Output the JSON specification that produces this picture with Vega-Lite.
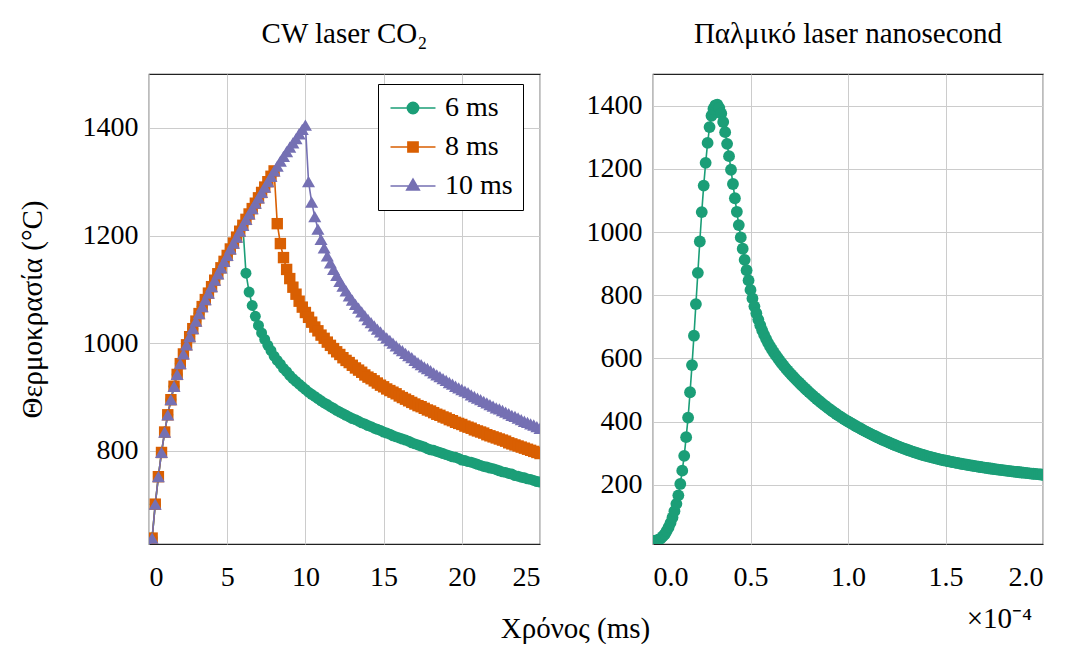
{
"$schema":"https://vega.github.io/schema/vega-lite/v6.json",
"background":"white",
"padding":{"left":17,"top":19,"right":5,"bottom":0},
"bounds":"flush",
"spacing":113,
"config":{
 "font":"serif",
 "view":{"stroke":"#222222","strokeWidth":1.2},
 "style":{"guide-label":{"font":"serif"},"guide-title":{"font":"serif"}},
 "axis":{"labelFont":"serif","labelFontSize":28,"labelColor":"black","titleFont":"serif","titleFontSize":29,"titleFontWeight":"normal","titleColor":"black","gridColor":"#cccccc","gridWidth":1,"domain":false,"ticks":false,"labelPadding":11},
 "legend":{"labelFont":"serif","titleFont":"serif"},
 "title":{"font":"Liberation Serif","fontSize":29,"fontWeight":"normal","color":"black"}
},
"hconcat":[
{
 "width":391,"height":470,
 "title":{"text":"CW laser CO₂","offset":2,"baseline":"alphabetic","font":"Liberation Serif"},
 "data":{"values":[
{"t":0,"6 ms":625,"8 ms":625,"10 ms":625},
{"t":0.2,"6 ms":638,"8 ms":638,"10 ms":638},
{"t":0.4,"6 ms":701,"8 ms":701,"10 ms":701},
{"t":0.6,"6 ms":752,"8 ms":752,"10 ms":752},
{"t":0.8,"6 ms":797,"8 ms":797,"10 ms":797},
{"t":1.0,"6 ms":835,"8 ms":835,"10 ms":835},
{"t":1.2,"6 ms":867,"8 ms":867,"10 ms":867},
{"t":1.4,"6 ms":895,"8 ms":895,"10 ms":895},
{"t":1.6,"6 ms":920,"8 ms":920,"10 ms":920},
{"t":1.8,"6 ms":942,"8 ms":942,"10 ms":942},
{"t":2.0,"6 ms":962,"8 ms":962,"10 ms":962},
{"t":2.2,"6 ms":980,"8 ms":980,"10 ms":980},
{"t":2.4,"6 ms":997,"8 ms":997,"10 ms":997},
{"t":2.6,"6 ms":1012,"8 ms":1012,"10 ms":1012},
{"t":2.8,"6 ms":1027,"8 ms":1027,"10 ms":1027},
{"t":3.0,"6 ms":1041,"8 ms":1041,"10 ms":1041},
{"t":3.2,"6 ms":1055,"8 ms":1055,"10 ms":1055},
{"t":3.4,"6 ms":1068,"8 ms":1068,"10 ms":1068},
{"t":3.6,"6 ms":1081,"8 ms":1081,"10 ms":1081},
{"t":3.8,"6 ms":1093,"8 ms":1093,"10 ms":1093},
{"t":4.0,"6 ms":1105,"8 ms":1105,"10 ms":1105},
{"t":4.2,"6 ms":1117,"8 ms":1117,"10 ms":1117},
{"t":4.4,"6 ms":1129,"8 ms":1129,"10 ms":1129},
{"t":4.6,"6 ms":1140,"8 ms":1140,"10 ms":1140},
{"t":4.8,"6 ms":1152,"8 ms":1152,"10 ms":1152},
{"t":5.0,"6 ms":1163,"8 ms":1163,"10 ms":1163},
{"t":5.2,"6 ms":1175,"8 ms":1175,"10 ms":1175},
{"t":5.4,"6 ms":1186,"8 ms":1186,"10 ms":1186},
{"t":5.6,"6 ms":1197,"8 ms":1197,"10 ms":1197},
{"t":5.8,"6 ms":1208,"8 ms":1208,"10 ms":1208},
{"t":6.0,"6 ms":1219,"8 ms":1219,"10 ms":1219},
{"t":6.2,"6 ms":1130,"8 ms":1230,"10 ms":1230},
{"t":6.4,"6 ms":1095,"8 ms":1240,"10 ms":1240},
{"t":6.6,"6 ms":1070,"8 ms":1250,"10 ms":1250},
{"t":6.8,"6 ms":1050,"8 ms":1260,"10 ms":1260},
{"t":7.0,"6 ms":1033,"8 ms":1270,"10 ms":1270},
{"t":7.2,"6 ms":1019,"8 ms":1280,"10 ms":1280},
{"t":7.4,"6 ms":1007,"8 ms":1290,"10 ms":1290},
{"t":7.6,"6 ms":996,"8 ms":1300,"10 ms":1300},
{"t":7.8,"6 ms":986,"8 ms":1310,"10 ms":1310},
{"t":8.0,"6 ms":976,"8 ms":1320,"10 ms":1320},
{"t":8.2,"6 ms":968,"8 ms":1222,"10 ms":1329},
{"t":8.4,"6 ms":961,"8 ms":1185,"10 ms":1338},
{"t":8.6,"6 ms":953,"8 ms":1159,"10 ms":1347},
{"t":8.8,"6 ms":947,"8 ms":1137,"10 ms":1356},
{"t":9.0,"6 ms":940,"8 ms":1120,"10 ms":1364},
{"t":9.2,"6 ms":934,"8 ms":1104,"10 ms":1372},
{"t":9.4,"6 ms":929,"8 ms":1091,"10 ms":1380},
{"t":9.6,"6 ms":924,"8 ms":1078,"10 ms":1389},
{"t":9.8,"6 ms":919,"8 ms":1067,"10 ms":1397},
{"t":10.0,"6 ms":914,"8 ms":1057,"10 ms":1405},
{"t":10.2,"6 ms":909,"8 ms":1048,"10 ms":1300},
{"t":10.4,"6 ms":905,"8 ms":1039,"10 ms":1262},
{"t":10.6,"6 ms":901,"8 ms":1030,"10 ms":1235},
{"t":10.8,"6 ms":897,"8 ms":1023,"10 ms":1212},
{"t":11.0,"6 ms":893,"8 ms":1015,"10 ms":1193},
{"t":11.2,"6 ms":889,"8 ms":1009,"10 ms":1177},
{"t":11.4,"6 ms":886,"8 ms":1002,"10 ms":1162},
{"t":11.6,"6 ms":882,"8 ms":996,"10 ms":1149},
{"t":11.8,"6 ms":879,"8 ms":990,"10 ms":1137},
{"t":12.0,"6 ms":875,"8 ms":984,"10 ms":1126},
{"t":12.2,"6 ms":872,"8 ms":979,"10 ms":1115},
{"t":12.4,"6 ms":869,"8 ms":973,"10 ms":1106},
{"t":12.6,"6 ms":866,"8 ms":968,"10 ms":1097},
{"t":12.8,"6 ms":863,"8 ms":964,"10 ms":1088},
{"t":13.0,"6 ms":860,"8 ms":959,"10 ms":1080},
{"t":13.2,"6 ms":858,"8 ms":954,"10 ms":1072},
{"t":13.4,"6 ms":855,"8 ms":950,"10 ms":1065},
{"t":13.6,"6 ms":852,"8 ms":946,"10 ms":1058},
{"t":13.8,"6 ms":850,"8 ms":941,"10 ms":1051},
{"t":14.0,"6 ms":847,"8 ms":937,"10 ms":1044},
{"t":14.2,"6 ms":845,"8 ms":934,"10 ms":1038},
{"t":14.4,"6 ms":842,"8 ms":930,"10 ms":1032},
{"t":14.6,"6 ms":840,"8 ms":926,"10 ms":1026},
{"t":14.8,"6 ms":838,"8 ms":922,"10 ms":1021},
{"t":15.0,"6 ms":835,"8 ms":919,"10 ms":1015},
{"t":15.2,"6 ms":833,"8 ms":915,"10 ms":1010},
{"t":15.4,"6 ms":831,"8 ms":912,"10 ms":1005},
{"t":15.6,"6 ms":828,"8 ms":909,"10 ms":1000},
{"t":15.8,"6 ms":826,"8 ms":906,"10 ms":995},
{"t":16.0,"6 ms":824,"8 ms":902,"10 ms":990},
{"t":16.2,"6 ms":822,"8 ms":899,"10 ms":986},
{"t":16.4,"6 ms":820,"8 ms":896,"10 ms":981},
{"t":16.6,"6 ms":818,"8 ms":893,"10 ms":977},
{"t":16.8,"6 ms":815,"8 ms":890,"10 ms":973},
{"t":17.0,"6 ms":813,"8 ms":887,"10 ms":968},
{"t":17.2,"6 ms":811,"8 ms":884,"10 ms":964},
{"t":17.4,"6 ms":809,"8 ms":882,"10 ms":960},
{"t":17.6,"6 ms":807,"8 ms":879,"10 ms":956},
{"t":17.8,"6 ms":804,"8 ms":876,"10 ms":953},
{"t":18.0,"6 ms":802,"8 ms":874,"10 ms":949},
{"t":18.2,"6 ms":801,"8 ms":871,"10 ms":945},
{"t":18.4,"6 ms":799,"8 ms":868,"10 ms":941},
{"t":18.6,"6 ms":797,"8 ms":866,"10 ms":938},
{"t":18.8,"6 ms":795,"8 ms":863,"10 ms":934},
{"t":19.0,"6 ms":793,"8 ms":861,"10 ms":931},
{"t":19.2,"6 ms":791,"8 ms":858,"10 ms":927},
{"t":19.4,"6 ms":789,"8 ms":856,"10 ms":924},
{"t":19.6,"6 ms":788,"8 ms":853,"10 ms":920},
{"t":19.8,"6 ms":786,"8 ms":851,"10 ms":917},
{"t":20.0,"6 ms":783,"8 ms":849,"10 ms":914},
{"t":20.2,"6 ms":782,"8 ms":846,"10 ms":911},
{"t":20.4,"6 ms":780,"8 ms":844,"10 ms":908},
{"t":20.6,"6 ms":779,"8 ms":842,"10 ms":904},
{"t":20.8,"6 ms":777,"8 ms":839,"10 ms":901},
{"t":21.0,"6 ms":775,"8 ms":837,"10 ms":898},
{"t":21.2,"6 ms":773,"8 ms":835,"10 ms":895},
{"t":21.4,"6 ms":771,"8 ms":833,"10 ms":892},
{"t":21.6,"6 ms":770,"8 ms":830,"10 ms":889},
{"t":21.8,"6 ms":768,"8 ms":828,"10 ms":886},
{"t":22.0,"6 ms":767,"8 ms":826,"10 ms":883},
{"t":22.2,"6 ms":765,"8 ms":824,"10 ms":880},
{"t":22.4,"6 ms":763,"8 ms":822,"10 ms":878},
{"t":22.6,"6 ms":761,"8 ms":820,"10 ms":875},
{"t":22.8,"6 ms":760,"8 ms":818,"10 ms":872},
{"t":23.0,"6 ms":758,"8 ms":815,"10 ms":869},
{"t":23.2,"6 ms":757,"8 ms":813,"10 ms":866},
{"t":23.4,"6 ms":754,"8 ms":811,"10 ms":864},
{"t":23.6,"6 ms":753,"8 ms":809,"10 ms":861},
{"t":23.8,"6 ms":751,"8 ms":807,"10 ms":858},
{"t":24.0,"6 ms":750,"8 ms":805,"10 ms":855},
{"t":24.2,"6 ms":748,"8 ms":803,"10 ms":853},
{"t":24.4,"6 ms":747,"8 ms":801,"10 ms":850},
{"t":24.6,"6 ms":745,"8 ms":799,"10 ms":848},
{"t":24.8,"6 ms":743,"8 ms":797,"10 ms":845},
{"t":25.0,"6 ms":742,"8 ms":795,"10 ms":842}
 ]},
 "transform":[{"fold":["6 ms","8 ms","10 ms"],"as":["series","T"]}],
 "encoding":{
  "x":{"field":"t","type":"quantitative","scale":{"domain":[0,25],"nice":false},"axis":{"values":[0,5,10,15,20,25],"format":"d","labelFont":"serif","titleFont":"serif","title":"Χρόνος (ms)","titleX":426,"titleY":93,"titleBaseline":"alphabetic","titleAlign":"center","labelPadding":19}},
  "y":{"field":"T","type":"quantitative","scale":{"domain":[627,1500],"nice":false,"zero":false},"axis":{"values":[800,1000,1200,1400],"format":"d","labelFont":"serif","titleFont":"serif","title":"Θερμοκρασία (°C)","titleX":-117,"titleBaseline":"middle"}},
  "color":{"field":"series","type":"nominal","scale":{"domain":["6 ms","8 ms","10 ms"],"range":["#1b9e77","#d95f02","#7570b3"]},
   "legend":{"orient":"none","legendX":229,"legendY":10,"title":null,"padding":10,"strokeColor":"black","fillColor":"white","cornerRadius":0,"labelFontSize":28,"labelFont":"serif","labelColor":"black","symbolSize":506,"symbolOffset":11,"labelOffset":18,"rowPadding":11,"symbolStrokeWidth":1.6,
    "encode":{"labels":{"update":{"font":{"value":"serif"}}},"symbols":{"update":{
     "shape":{"signal":"datum.value === '6 ms' ? 'M-2,0H2M0.5,0A0.5,0.5,0,1,1,-0.5,0A0.5,0.5,0,1,1,0.5,0Z' : datum.value === '8 ms' ? 'M-2,0H2M-0.45,-0.45H0.45V0.45H-0.45Z' : 'M-2,0H2M0,-0.62L0.56,0.36H-0.56Z'"},
     "fill":{"signal":"datum.value === '6 ms' ? '#1b9e77' : datum.value === '8 ms' ? '#d95f02' : '#7570b3'"},
     "stroke":{"signal":"datum.value === '6 ms' ? '#1b9e77' : datum.value === '8 ms' ? '#d95f02' : '#7570b3'"},
     "strokeWidth":{"value":1.6},
     "opacity":{"value":1}}}}}}
 },
 "layer":[
  {"mark":{"type":"line","strokeWidth":1.6,"clip":true}},
  {"transform":[{"filter":"datum.series === '6 ms'"}],"mark":{"type":"point","shape":"circle","size":120,"filled":true,"opacity":1,"clip":true}},
  {"transform":[{"filter":"datum.series === '8 ms'"}],"mark":{"type":"point","shape":"square","size":130,"filled":true,"opacity":1,"clip":true}},
  {"transform":[{"filter":"datum.series === '10 ms'"}],"mark":{"type":"point","shape":"triangle-up","size":170,"filled":true,"opacity":1,"clip":true}}
 ]
},
{
 "width":390,"height":470,
 "title":{"text":"Παλμικό laser nanosecond","offset":2,"baseline":"alphabetic","font":"Liberation Serif"},
 "data":{"values":[
{"t":0.00,"T":22},{"t":0.01,"T":23},{"t":0.02,"T":24},{"t":0.03,"T":27},{"t":0.04,"T":31},{"t":0.05,"T":37},{"t":0.06,"T":44},{"t":0.07,"T":54},{"t":0.08,"T":66},{"t":0.09,"T":80},
{"t":0.10,"T":97},{"t":0.11,"T":117},{"t":0.12,"T":140},{"t":0.13,"T":167},{"t":0.14,"T":203},{"t":0.15,"T":245},{"t":0.16,"T":292},{"t":0.17,"T":351},{"t":0.18,"T":413},{"t":0.19,"T":493},
{"t":0.20,"T":579},{"t":0.21,"T":672},{"t":0.22,"T":772},{"t":0.23,"T":871},{"t":0.24,"T":970},{"t":0.25,"T":1063},{"t":0.26,"T":1147},{"t":0.27,"T":1219},{"t":0.28,"T":1282},{"t":0.29,"T":1332},
{"t":0.30,"T":1368},{"t":0.31,"T":1390},{"t":0.32,"T":1401},{"t":0.33,"T":1403},{"t":0.34,"T":1393},{"t":0.35,"T":1375},{"t":0.36,"T":1348},{"t":0.37,"T":1316},{"t":0.38,"T":1279},{"t":0.39,"T":1240},
{"t":0.40,"T":1197},{"t":0.41,"T":1152},{"t":0.42,"T":1107},{"t":0.43,"T":1064},{"t":0.44,"T":1022},{"t":0.45,"T":983},{"t":0.46,"T":947},{"t":0.47,"T":912},{"t":0.48,"T":879},{"t":0.49,"T":847},
{"t":0.50,"T":817},{"t":0.51,"T":790},{"t":0.52,"T":765},{"t":0.53,"T":743},{"t":0.54,"T":723},{"t":0.55,"T":705},{"t":0.56,"T":689},{"t":0.57,"T":674.5},{"t":0.58,"T":661.5},{"t":0.59,"T":649.5},
{"t":0.60,"T":638.5},{"t":0.61,"T":628.5},{"t":0.62,"T":619},{"t":0.63,"T":610},{"t":0.64,"T":601.3},{"t":0.65,"T":592.9},{"t":0.66,"T":584.8},{"t":0.67,"T":577},{"t":0.68,"T":569.5},{"t":0.69,"T":562.3},
{"t":0.70,"T":555.3},{"t":0.71,"T":548.5},{"t":0.72,"T":542},{"t":0.73,"T":535.6},{"t":0.74,"T":529.3},{"t":0.75,"T":523.1},{"t":0.76,"T":517},{"t":0.77,"T":511},{"t":0.78,"T":505.1},{"t":0.79,"T":499.3},
{"t":0.80,"T":493.6},{"t":0.81,"T":488},{"t":0.82,"T":482.5},{"t":0.83,"T":477.1},{"t":0.84,"T":471.8},{"t":0.85,"T":466.6},{"t":0.86,"T":461.5},{"t":0.87,"T":456.5},{"t":0.88,"T":451.6},{"t":0.89,"T":446.8},
{"t":0.90,"T":442.1},{"t":0.91,"T":437.5},{"t":0.92,"T":433},{"t":0.93,"T":428.6},{"t":0.94,"T":424.3},{"t":0.95,"T":420.1},{"t":0.96,"T":416},{"t":0.97,"T":412},{"t":0.98,"T":408.1},{"t":0.99,"T":404.3},
{"t":1.00,"T":400.6},{"t":1.01,"T":397},{"t":1.02,"T":393.4},{"t":1.03,"T":389.8},{"t":1.04,"T":386.3},{"t":1.05,"T":382.8},{"t":1.06,"T":379.4},{"t":1.07,"T":376},{"t":1.08,"T":372.7},{"t":1.09,"T":369.5},
{"t":1.10,"T":366.2},{"t":1.11,"T":363.1},{"t":1.12,"T":359.9},{"t":1.13,"T":356.9},{"t":1.14,"T":353.8},{"t":1.15,"T":350.8},{"t":1.16,"T":347.9},{"t":1.17,"T":345},{"t":1.18,"T":342.2},{"t":1.19,"T":339.4},
{"t":1.20,"T":336.7},{"t":1.21,"T":334},{"t":1.22,"T":331.3},{"t":1.23,"T":328.7},{"t":1.24,"T":326.2},{"t":1.25,"T":323.7},{"t":1.26,"T":321.2},{"t":1.27,"T":318.8},{"t":1.28,"T":316.5},{"t":1.29,"T":314.2},
{"t":1.30,"T":311.9},{"t":1.31,"T":309.7},{"t":1.32,"T":307.5},{"t":1.33,"T":305.4},{"t":1.34,"T":303.3},{"t":1.35,"T":301.3},{"t":1.36,"T":299.3},{"t":1.37,"T":297.4},{"t":1.38,"T":295.5},{"t":1.39,"T":293.7},
{"t":1.40,"T":291.9},{"t":1.41,"T":290.2},{"t":1.42,"T":288.5},{"t":1.43,"T":286.9},{"t":1.44,"T":285.3},{"t":1.45,"T":283.7},{"t":1.46,"T":282.3},{"t":1.47,"T":280.8},{"t":1.48,"T":279.4},{"t":1.49,"T":278.1},
{"t":1.50,"T":276.8},{"t":1.51,"T":275.5},{"t":1.52,"T":274.2},{"t":1.53,"T":273},{"t":1.54,"T":271.8},{"t":1.55,"T":270.6},{"t":1.56,"T":269.4},{"t":1.57,"T":268.2},{"t":1.58,"T":267},{"t":1.59,"T":265.9},
{"t":1.60,"T":264.8},{"t":1.61,"T":263.7},{"t":1.62,"T":262.6},{"t":1.63,"T":261.5},{"t":1.64,"T":260.5},{"t":1.65,"T":259.4},{"t":1.66,"T":258.4},{"t":1.67,"T":257.4},{"t":1.68,"T":256.5},{"t":1.69,"T":255.5},
{"t":1.70,"T":254.6},{"t":1.71,"T":253.6},{"t":1.72,"T":252.7},{"t":1.73,"T":251.9},{"t":1.74,"T":251},{"t":1.75,"T":250.1},{"t":1.76,"T":249.3},{"t":1.77,"T":248.5},{"t":1.78,"T":247.6},{"t":1.79,"T":246.8},
{"t":1.80,"T":246},{"t":1.81,"T":245.2},{"t":1.82,"T":244.5},{"t":1.83,"T":243.7},{"t":1.84,"T":242.9},{"t":1.85,"T":242.2},{"t":1.86,"T":241.4},{"t":1.87,"T":240.7},{"t":1.88,"T":240},{"t":1.89,"T":239.3},
{"t":1.90,"T":238.6},{"t":1.91,"T":237.9},{"t":1.92,"T":237.2},{"t":1.93,"T":236.6},{"t":1.94,"T":235.9},{"t":1.95,"T":235.3},{"t":1.96,"T":234.6},{"t":1.97,"T":234},{"t":1.98,"T":233.4},{"t":1.99,"T":232.8},
{"t":2.00,"T":232.2}
 ]},
 "encoding":{
  "x":{"field":"t","type":"quantitative","scale":{"domain":[0,2],"nice":false},"axis":{"values":[0,0.5,1,1.5,2],"format":".1f","labelFont":"serif","titleFont":"serif","title":"×10⁻⁴","titleX":346,"titleY":83,"titleBaseline":"alphabetic","titleAlign":"center","labelPadding":19}},
  "y":{"field":"T","type":"quantitative","scale":{"domain":[13,1500],"nice":false,"zero":false},"axis":{"values":[200,400,600,800,1000,1200,1400],"format":"d","labelFont":"serif","title":null}}
 },
 "layer":[
  {"mark":{"type":"line","color":"#1b9e77","strokeWidth":1.6,"clip":true}},
  {"mark":{"type":"point","filled":true,"color":"#1b9e77","opacity":1,"size":140,"clip":true}}
 ]
}
]
}
